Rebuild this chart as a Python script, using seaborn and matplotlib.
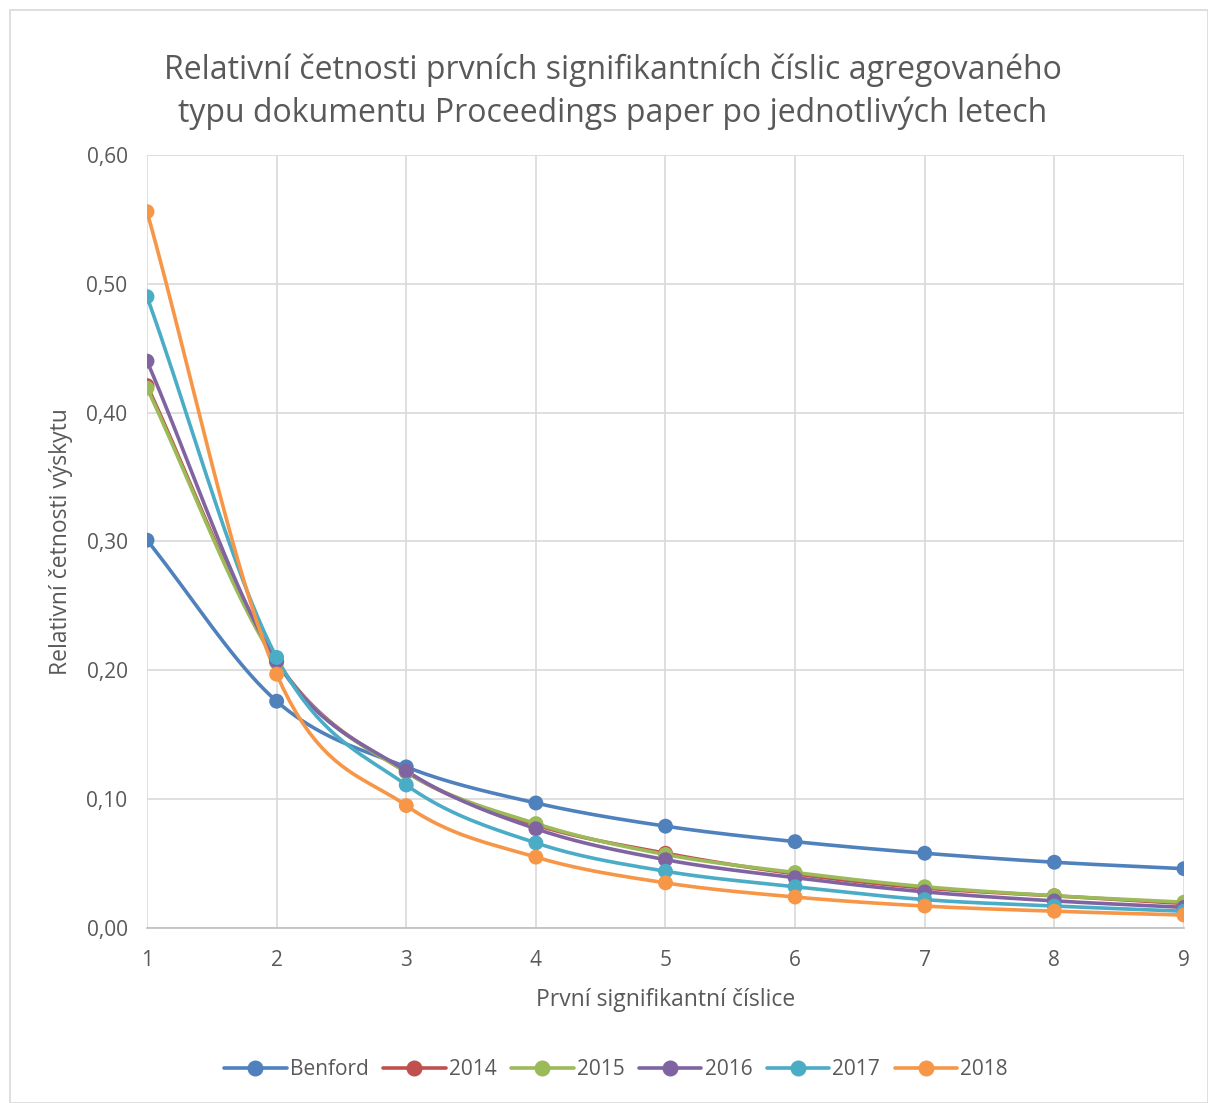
import numpy as np
import pandas as pd
import matplotlib
matplotlib.use("Agg")
import matplotlib.pyplot as plt
from matplotlib.lines import Line2D
from matplotlib.patches import Rectangle
import seaborn as sns

# data
digits = [1, 2, 3, 4, 5, 6, 7, 8, 9]
benford = [0.301, 0.176, 0.125, 0.097, 0.079, 0.067, 0.058, 0.051, 0.046]
y2014 = [0.421, 0.207, 0.121, 0.080, 0.058, 0.042, 0.031, 0.025, 0.019]
y2015 = [0.419, 0.206, 0.121, 0.081, 0.057, 0.043, 0.032, 0.025, 0.020]
y2016 = [0.440, 0.207, 0.122, 0.077, 0.053, 0.039, 0.028, 0.021, 0.016]
y2017 = [0.490, 0.210, 0.111, 0.066, 0.044, 0.032, 0.022, 0.017, 0.013]
y2018 = [0.556, 0.197, 0.095, 0.055, 0.035, 0.024, 0.017, 0.013, 0.010]

series = ["Benford", "2014", "2015", "2016", "2017", "2018"]
colors = ["#4F81BD", "#C0504D", "#9BBB59", "#8064A2", "#4BACC6", "#F79646"]

df = pd.DataFrame({"digit": digits, "Benford": benford, "2014": y2014,
                   "2015": y2015, "2016": y2016, "2017": y2017, "2018": y2018})
long = df.melt(id_vars="digit", var_name="series", value_name="value")


def smooth(x, y, n=20):
    # Catmull-Rom style smoothing like Excel's smoothed line
    x = np.asarray(x, float)
    y = np.asarray(y, float)
    px = np.concatenate([[2 * x[0] - x[1]], x, [2 * x[-1] - x[-2]]])
    py = np.concatenate([[2 * y[0] - y[1]], y, [2 * y[-1] - y[-2]]])
    xs, ys = [], []
    t = np.linspace(0, 1, n, endpoint=False)
    for i in range(1, len(px) - 2):
        for arr, out in ((px, xs), (py, ys)):
            p0, p1, p2, p3 = arr[i - 1], arr[i], arr[i + 1], arr[i + 2]
            m1 = (p2 - p0) / 2
            m2 = (p3 - p1) / 2
            h00 = 2 * t**3 - 3 * t**2 + 1
            h10 = t**3 - 2 * t**2 + t
            h01 = -2 * t**3 + 3 * t**2
            h11 = t**3 - t**2
            out.extend(h00 * p1 + h10 * m1 + h01 * p2 + h11 * m2)
    xs.append(x[-1])
    ys.append(y[-1])
    return np.array(xs), np.array(ys)


sns.set_style("white")
plt.rcParams["font.family"] = ["Open Sans", "DejaVu Sans"]

fig = plt.figure(figsize=(12.08, 11.03), dpi=100)
ax = fig.add_axes([0.1217, 0.1587, 0.8584, 0.7008])

for name, c in zip(series, colors):
    sx, sy = smooth(df["digit"], df[name])
    ax.plot(sx, sy, color=c, lw=2.6, zorder=3, solid_capstyle="round")

sns.scatterplot(data=long, x="digit", y="value", hue="series", hue_order=series,
                palette=colors, s=115, edgecolor="none", legend=False, ax=ax, zorder=4)

ax.set_xlim(1, 9)
ax.set_ylim(0, 0.6)
ax.set_xticks(digits)
ax.set_yticks(np.arange(0, 0.61, 0.1))
ax.set_yticklabels([f"{v:.2f}".replace(".", ",") for v in np.arange(0, 0.61, 0.1)])
ax.grid(True, color="#D9D9D9", lw=1.2)
ax.set_axisbelow(True)
for s in ["top", "right", "left"]:
    ax.spines[s].set_visible(False)
ax.spines["bottom"].set_color("#BFBFBF")
ax.spines["bottom"].set_linewidth(1.2)
ax.tick_params(axis="both", length=0, labelsize=15, colors="#595959")
ax.tick_params(axis="x", pad=16)
ax.tick_params(axis="y", pad=14)

ax.set_xlabel("První signifikantní číslice", fontsize=16.5, color="#595959", labelpad=12)
ax.set_ylabel("Relativní četnosti výskytu", fontsize=16.5, color="#595959", labelpad=10)

fig.text(0.507, 0.917, "Relativní četnosti prvních signifikantních číslic agregovaného\n"
         "typu dokumentu Proceedings paper po jednotlivých letech",
         ha="center", va="center", fontsize=23, color="#595959", linespacing=1.38)

handles = [Line2D([0], [0], color=c, lw=2.6, marker="o", markersize=10.5) for c in colors]
fig.legend(handles, series, loc="center", bbox_to_anchor=(0.510, 0.030), ncol=6,
           frameon=False, fontsize=15, labelcolor="#595959", handlelength=3.0,
           columnspacing=0.7, handletextpad=0.15)

fig.patches.append(Rectangle((10 / 1208, 0), 1 - 10 / 1208, 1 - 10 / 1103,
                             transform=fig.transFigure, fill=False,
                             edgecolor="#D9D9D9", lw=1.2))

fig.savefig("out.png", dpi=100)
